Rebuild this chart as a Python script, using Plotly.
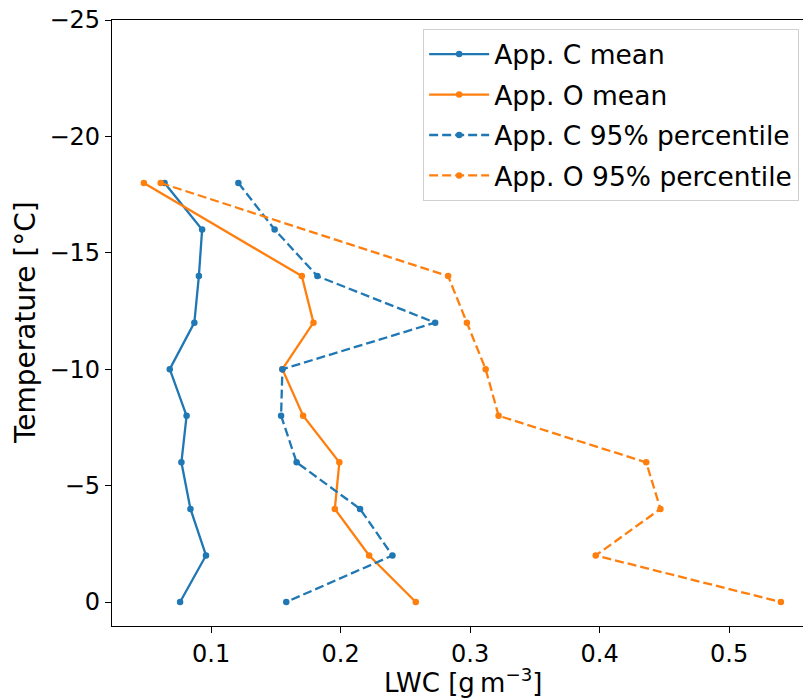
import plotly.graph_objects as go

temps = [-18, -16, -14, -12, -10, -8, -6, -4, -2, 0]
temps_o = [-18, -14, -12, -10, -8, -6, -4, -2, 0]

c_mean = [0.064, 0.093, 0.0905, 0.087, 0.068, 0.081, 0.077, 0.084, 0.096, 0.076]
o_mean = [0.048, 0.170, 0.179, 0.155, 0.171, 0.199, 0.1955, 0.222, 0.258]
c_p95 = [0.121, 0.149, 0.182, 0.273, 0.155, 0.154, 0.166, 0.215, 0.240, 0.158]
o_p95 = [0.061, 0.283, 0.2975, 0.312, 0.322, 0.436, 0.447, 0.397, 0.540]

names = ["App. C mean", "App. O mean", "App. C 95% percentile", "App. O 95% percentile"]
blue = "#1f77b4"
orange = "#ff7f0e"

xticks = [0.1, 0.2, 0.3, 0.4, 0.5]
yticks = [-25, -20, -15, -10, -5, 0]
yticktext = ["\u221225", "\u221220", "\u221215", "\u221210", "\u22125", "0"]

FONT = "DejaVu Sans"

fig = go.Figure()
series = [
    (c_mean, temps, names[0], blue, "solid"),
    (o_mean, temps_o, names[1], orange, "solid"),
    (c_p95, temps, names[2], blue, "9px,4px"),
    (o_p95, temps_o, names[3], orange, "9px,4px"),
]
for i, (xs, ys, nm, col, dash) in enumerate(series):
    fig.add_trace(go.Scatter(
        x=xs, y=ys, name=nm, mode="lines+markers",
        line=dict(color=col, width=2.3, dash=dash),
        marker=dict(color=col, size=6.5),
        legendgroup=f"g{i}",
    ))

W, H = 803, 699
L, R, T, B = 112, 0, 20, 73
pw = W - L - R
ph = H - T - B

fig.update_layout(
    width=W, height=H,
    margin=dict(l=L, r=R, t=T, b=B),
    plot_bgcolor="white", paper_bgcolor="white",
    font=dict(family=FONT, size=24, color="black"),
    showlegend=True,
    legend=dict(
        x=0.994, xanchor="right", y=0.985, yanchor="top",
        bgcolor="rgba(255,255,255,0.8)", bordercolor="#d0d0d0", borderwidth=1.3,
        font=dict(family=FONT, size=26.5, color="black"),
        tracegroupgap=3, traceorder="grouped", itemwidth=60,
    ),
    xaxis=dict(
        range=[0.0234, 0.5571], tickvals=xticks, ticktext=[str(v) for v in xticks],
        showgrid=False, zeroline=False, showline=True, linecolor="black", linewidth=1.3,
        mirror=True, ticks="outside", ticklen=6, tickwidth=1.3, tickcolor="black",
        tickfont=dict(family=FONT, size=24, color="black"),
    ),
    yaxis=dict(
        range=[1.03, -25], tickvals=yticks, ticktext=yticktext,
        showgrid=False, zeroline=False, showline=True, linecolor="black", linewidth=1.3,
        mirror=False, ticks="outside", ticklen=6, tickwidth=1.3, tickcolor="black",
        tickfont=dict(family=FONT, size=24, color="black"),
    ),
    annotations=[
        dict(text="LWC [g\u2009m<sup>\u22123</sup>]", xref="paper", yref="paper",
             x=(462.5 - L) / pw, y=-(681 - (H - B)) / ph,
             xanchor="center", yanchor="middle", showarrow=False,
             font=dict(family=FONT, size=26, color="black")),
        dict(text="Temperature [\u00b0C]", xref="paper", yref="paper",
             x=-(L - 25) / pw, y=0.5, textangle=-90,
             xanchor="center", yanchor="middle", showarrow=False,
             font=dict(family=FONT, size=28, color="black")),
    ],
)

fig.write_html(
    "out.html",
    config={"displayModeBar": False},
    post_script="document.body.style.margin='0';document.body.style.overflow='hidden';",
)
